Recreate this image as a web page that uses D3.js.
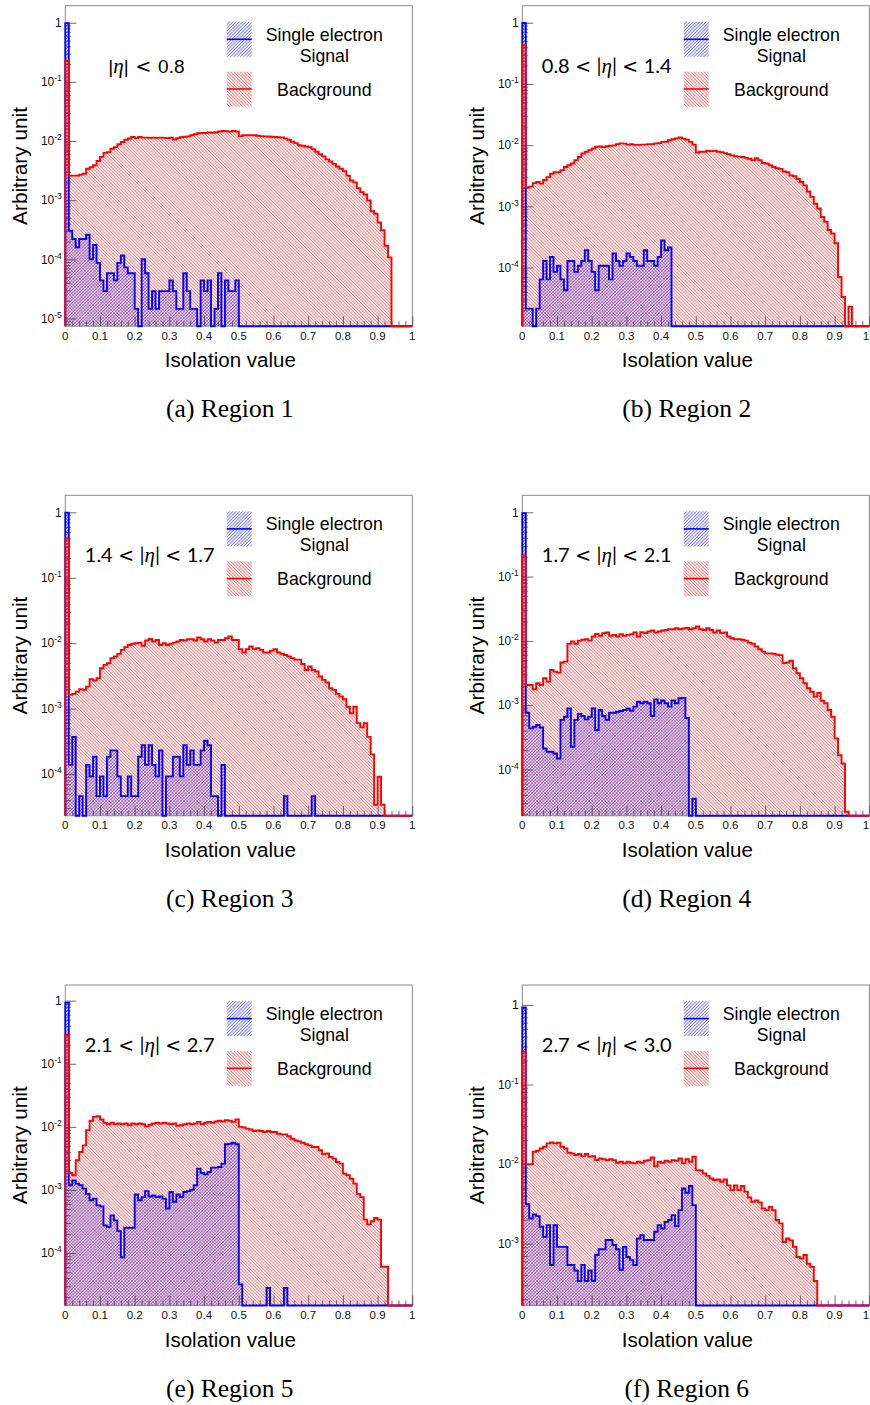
<!DOCTYPE html>
<html>
<head>
<meta charset="utf-8">
<script src="https://cdn.jsdelivr.net/npm/d3@7/dist/d3.min.js"></script>
<style>
  html, body { margin: 0; padding: 0; background: #fff; }
  svg { display: block; }
</style>
</head>
<body>
<svg id="fig" width="870" height="1405"></svg>
<script>
// Normalised isolation-value distributions, 100 bins on [0, 1], one pair per |eta| region.
// sigN: single electron signal, bkgN: background.

const sig1 = [
  0.985, 3.05e-4, 2.2e-4, 1.6e-4, 2.2e-4, 2.2e-4, 2.6e-4, 1.0e-4, 1.75e-4, 8.7e-5,
  4.4e-5, 2.9e-5, 5.8e-5, 5.8e-5, 4.4e-5, 8.7e-5, 1.16e-4, 7.3e-5, 5.8e-5, 5.8e-5,
  1.45e-5, 0, 1.0e-4, 5.8e-5, 1.45e-5, 2.9e-5, 1.45e-5, 2.9e-5, 2.9e-5, 2.9e-5,
  4.4e-5, 2.9e-5, 1.45e-5, 1.45e-5, 5.8e-5, 2.9e-5, 1.45e-5, 1.45e-5, 0, 4.4e-5,
  2.9e-5, 4.4e-5, 0, 1.45e-5, 5.8e-5, 0, 4.4e-5, 2.9e-5, 2.9e-5, 4.4e-5,
  0, 0, 0, 0, 0, 0, 0, 0, 0, 0,
  0, 0, 0, 0, 0, 0, 0, 0, 0, 0,
  0, 0, 0, 0, 0, 0, 0, 0, 0, 0,
  0, 0, 0, 0, 0, 0, 0, 0, 0, 0,
  0, 0, 0, 0, 0, 0, 0, 0, 0, 0
];
const bkg1 = [
  0.227, 2.6e-3, 2.6e-3, 2.6e-3, 2.7e-3, 2.8e-3, 3.4e-3, 3.6e-3, 3.9e-3, 4.6e-3,
  5.4e-3, 6.3e-3, 6.5e-3, 7.4e-3, 7.9e-3, 8.8e-3, 9.6e-3, 0.0105, 0.011, 0.0117,
  0.0112, 0.0117, 0.0114, 0.0114, 0.0113, 0.0114, 0.0113, 0.0114, 0.0113, 0.0112,
  0.0114, 0.0106, 0.0112, 0.0116, 0.0118, 0.012, 0.0125, 0.013, 0.0135, 0.0137,
  0.0137, 0.014, 0.0138, 0.0141, 0.0145, 0.0148, 0.0146, 0.0144, 0.0148, 0.0145,
  0.0121, 0.0125, 0.0125, 0.0126, 0.0125, 0.0123, 0.0121, 0.012, 0.0119, 0.0118,
  0.0117, 0.0116, 0.0115, 0.0111, 0.0105, 0.0097, 0.0092, 0.0085, 0.0083, 0.0081,
  0.0079, 0.0073, 0.0066, 0.006, 0.0055, 0.0049, 0.0045, 0.0041, 0.0037, 0.0034,
  0.0031, 0.0026, 0.00215, 0.002, 0.0016, 0.00137, 0.00125, 0.00099, 0.00065, 0.00059,
  0.00042, 0.00031, 0.00017, 0.000108, 0, 0, 0, 0, 0, 0
];

const sig2 = [
  0.99, 2.13e-5, 2.13e-5, 0, 2.13e-5, 6.4e-5, 1.28e-4, 6.4e-5, 1.49e-4, 8.5e-5,
  1.07e-4, 6.4e-5, 4.26e-5, 1.28e-4, 1.28e-4, 8.5e-5, 1.07e-4, 1.28e-4, 1.92e-4, 1.28e-4,
  8.5e-5, 4.26e-5, 1.07e-4, 1.07e-4, 1.07e-4, 6.4e-5, 1.7e-4, 1.28e-4, 1.07e-4, 1.28e-4,
  1.7e-4, 1.49e-4, 1.28e-4, 1.07e-4, 1.07e-4, 1.92e-4, 1.28e-4, 1.28e-4, 1.07e-4, 1.49e-4,
  2.77e-4, 1.92e-4, 2.13e-4, 0, 0, 0, 0, 0, 0, 0,
  0, 0, 0, 0, 0, 0, 0, 0, 0, 0,
  0, 0, 0, 0, 0, 0, 0, 0, 0, 0,
  0, 0, 0, 0, 0, 0, 0, 0, 0, 0,
  0, 0, 0, 0, 0, 0, 0, 0, 0, 0,
  0, 0, 0, 0, 0, 0, 0, 0, 0, 0
];
const bkg2 = [
  0.43, 2.03e-3, 2.1e-3, 2.4e-3, 2.5e-3, 2.35e-3, 2.7e-3, 3.0e-3, 3.4e-3, 3.6e-3,
  3.6e-3, 3.9e-3, 4.4e-3, 4.7e-3, 5.0e-3, 5.7e-3, 6.4e-3, 7.3e-3, 7.8e-3, 8.3e-3,
  8.8e-3, 9.4e-3, 9.5e-3, 9.3e-3, 9.6e-3, 9.8e-3, 9.9e-3, 0.0104, 0.0107, 0.0106,
  0.0102, 0.0104, 0.0101, 0.0101, 0.0102, 0.0102, 0.0104, 0.0104, 0.0107, 0.0108,
  0.0113, 0.0113, 0.012, 0.0125, 0.0129, 0.0133, 0.0128, 0.0123, 0.0113, 0.0102,
  0.0076, 0.0078, 0.0078, 0.0081, 0.008, 0.0081, 0.0078, 0.0077, 0.0074, 0.0071,
  0.0068, 0.0066, 0.0065, 0.0064, 0.0062, 0.006, 0.0057, 0.0061, 0.0057, 0.0051,
  0.005, 0.0047, 0.0044, 0.0042, 0.0041, 0.0037, 0.0036, 0.0032, 0.0031, 0.0028,
  0.0025, 0.0022, 0.00175, 0.00143, 0.0011, 0.00092, 0.00067, 0.00056, 0.00041, 0.00036,
  0.00025, 7e-5, 3.3e-5, 0, 2.3e-5, 0, 0, 0, 0, 0
];

const sig3 = [
  0.99, 1.38e-4, 3.68e-4, 0, 4.6e-5, 0, 1.38e-4, 9.2e-5, 1.84e-4, 4.6e-5,
  9.2e-5, 4.6e-5, 1.84e-4, 2.3e-4, 2.3e-4, 9.2e-5, 4.6e-5, 4.6e-5, 9.2e-5, 4.6e-5,
  4.6e-5, 1.84e-4, 2.76e-4, 1.38e-4, 2.76e-4, 1.38e-4, 9.2e-5, 2.3e-4, 0, 9.2e-5,
  9.2e-5, 1.84e-4, 1.84e-4, 9.2e-5, 2.76e-4, 1.38e-4, 2.3e-4, 1.38e-4, 1.38e-4, 2.3e-4,
  3.22e-4, 2.76e-4, 4.6e-5, 4.6e-5, 0, 1.38e-4, 0, 0, 0, 0,
  0, 0, 0, 0, 0, 0, 0, 0, 0, 0,
  0, 0, 0, 4.6e-5, 0, 0, 0, 0, 0, 0,
  0, 4.6e-5, 0, 0, 0, 0, 0, 0, 0, 0,
  0, 0, 0, 0, 0, 0, 0, 0, 0, 0,
  0, 0, 0, 0, 0, 0, 0, 0, 0, 0
];
const bkg3 = [
  0.40, 1.62e-3, 1.68e-3, 1.82e-3, 1.98e-3, 1.93e-3, 2.17e-3, 2.81e-3, 2.69e-3, 2.91e-3,
  4.14e-3, 4.66e-3, 4.94e-3, 5.9e-3, 6.25e-3, 6.87e-3, 7.9e-3, 8.7e-3, 9.4e-3, 9.8e-3,
  0.01, 0.0102, 9.1e-3, 0.011, 0.0116, 0.0106, 0.0112, 9.4e-3, 0.01, 9.4e-3,
  9.8e-3, 0.0102, 0.0106, 0.0112, 0.011, 0.0115, 0.0115, 0.011, 0.0122, 0.0115,
  0.0106, 0.0115, 0.011, 0.0102, 0.0112, 0.0112, 0.0119, 0.0127, 0.0112, 0.0112,
  8.1e-3, 7.2e-3, 8.1e-3, 8.9e-3, 8.1e-3, 8.4e-3, 7.9e-3, 7.2e-3, 7.2e-3, 7.7e-3,
  8.1e-3, 7.2e-3, 6.9e-3, 6.6e-3, 6.25e-3, 5.9e-3, 5.6e-3, 5.6e-3, 4.8e-3, 3.9e-3,
  4.4e-3, 3.9e-3, 3.7e-3, 3.1e-3, 2.75e-3, 2.5e-3, 2.05e-3, 1.93e-3, 1.68e-3, 1.53e-3,
  1.39e-3, 1.07e-3, 8.5e-4, 1.07e-3, 6.0e-4, 5.2e-4, 6.0e-4, 3.7e-4, 2.0e-4, 3.4e-5,
  9.1e-5, 3.4e-5, 0, 0, 0, 0, 0, 0, 0, 0
];

const sig4 = [
  0.97, 7.6e-4, 4.36e-4, 4.62e-4, 4.9e-4, 4.5e-4, 2.12e-4, 1.88e-4, 1.88e-4, 1.77e-4,
  1.48e-4, 5.9e-4, 6.6e-4, 8.9e-4, 2.26e-4, 5.9e-4, 7.3e-4, 6.8e-4, 6.0e-4, 6.6e-4,
  8.9e-4, 4.1e-4, 8.4e-4, 6.8e-4, 5.9e-4, 7.6e-4, 7.6e-4, 7.9e-4, 8.1e-4, 8.4e-4,
  8.9e-4, 8.2e-4, 9.5e-4, 1.13e-3, 1.07e-3, 1.13e-3, 1.07e-3, 6.8e-4, 1.23e-3, 1.07e-3,
  1.18e-3, 1.07e-3, 9.5e-4, 1.18e-3, 1.07e-3, 1.28e-3, 1.3e-3, 6.3e-4, 0, 3.5e-5,
  0, 0, 0, 0, 0, 0, 0, 0, 0, 0,
  0, 0, 0, 0, 0, 0, 0, 0, 0, 0,
  0, 0, 0, 0, 0, 0, 0, 0, 0, 0,
  0, 0, 0, 0, 0, 0, 0, 0, 0, 0,
  0, 0, 0, 0, 0, 0, 0, 0, 0, 0
];
const bkg4 = [
  0.214, 2.06e-3, 2.06e-3, 1.77e-3, 2.19e-3, 2.06e-3, 2.62e-3, 2.32e-3, 3.53e-3, 3.33e-3,
  3.21e-3, 4.6e-3, 4.76e-3, 8.98e-3, 9.77e-3, 8.98e-3, 0.0101, 0.0104, 0.0106, 0.0101,
  0.0117, 0.0128, 0.012, 0.0132, 0.0135, 0.012, 0.0124, 0.0117, 0.0127, 0.012,
  0.0124, 0.0127, 0.0135, 0.0117, 0.0137, 0.0132, 0.014, 0.0145, 0.0135, 0.014,
  0.0145, 0.0148, 0.0152, 0.0152, 0.0157, 0.0152, 0.0156, 0.0159, 0.0152, 0.0157,
  0.0167, 0.0152, 0.0148, 0.0157, 0.0148, 0.0135, 0.0145, 0.0132, 0.0135, 0.0117,
  0.011, 0.0106, 0.0106, 0.0104, 0.0101, 9.4e-3, 9.0e-3, 8.2e-3, 7.4e-3, 6.8e-3,
  6.4e-3, 6.4e-3, 6.3e-3, 6.1e-3, 6.0e-3, 4.5e-3, 4.6e-3, 4.9e-3, 3.75e-3, 3.13e-3,
  2.62e-3, 2.19e-3, 1.83e-3, 1.62e-3, 1.36e-3, 1.55e-3, 1.17e-3, 1.07e-3, 8.4e-4, 6.6e-4,
  3.04e-4, 1.67e-4, 1.24e-4, 2.2e-5, 0, 0, 0, 0, 0, 0
];

const sig5 = [
  0.93, 1.19e-3, 1.42e-3, 1.26e-3, 1.19e-3, 1.05e-3, 8.7e-4, 6.9e-4, 7.3e-4, 5.7e-4,
  5.5e-4, 2.75e-4, 2.59e-4, 3.96e-4, 3.3e-4, 2.23e-4, 8.6e-5, 2.52e-4, 2.52e-4, 2.52e-4,
  8.5e-4, 6.9e-4, 7.7e-4, 9.6e-4, 7.9e-4, 8.2e-4, 7.7e-4, 7.9e-4, 7.3e-4, 5.1e-4,
  9.3e-4, 6.5e-4, 8.5e-4, 7.7e-4, 9.3e-4, 9.6e-4, 1.01e-3, 1.19e-3, 2.18e-3, 1.86e-3,
  1.77e-3, 1.93e-3, 2.26e-3, 2.26e-3, 2.32e-3, 2.62e-3, 5.3e-3, 5.4e-3, 5.6e-3, 5.3e-3,
  3.2e-5, 0, 0, 0, 0, 0, 0, 0, 2.8e-5, 0,
  0, 0, 0, 2.8e-5, 0, 0, 0, 0, 0, 0,
  0, 0, 0, 0, 0, 0, 0, 0, 0, 0,
  0, 0, 0, 0, 0, 0, 0, 0, 0, 0,
  0, 0, 0, 0, 0, 0, 0, 0, 0, 0
];
const bkg5 = [
  0.285, 1.86e-3, 1.71e-3, 2.96e-3, 4.0e-3, 5.1e-3, 8.9e-3, 0.0125, 0.0144, 0.0148,
  0.0131, 0.0116, 0.011, 0.0116, 0.011, 0.0113, 0.011, 0.0113, 0.0106, 0.0113,
  0.011, 0.0113, 0.011, 0.0102, 0.0108, 0.0113, 0.0116, 0.0113, 0.0116, 0.0113,
  0.011, 0.0113, 0.0104, 0.0106, 0.011, 0.0113, 0.011, 0.0113, 0.012, 0.011,
  0.0116, 0.012, 0.0116, 0.0122, 0.0125, 0.0122, 0.0128, 0.0125, 0.012, 0.0131,
  0.01, 9.8e-3, 9.4e-3, 9.1e-3, 8.6e-3, 8.8e-3, 8.6e-3, 8.3e-3, 8.6e-3, 8.3e-3,
  8.3e-3, 7.8e-3, 7.6e-3, 7.6e-3, 7.1e-3, 6.5e-3, 6.1e-3, 5.9e-3, 5.6e-3, 5.3e-3,
  5.1e-3, 4.8e-3, 4.8e-3, 4.27e-3, 3.7e-3, 3.8e-3, 3.34e-3, 3.14e-3, 2.78e-3, 2.62e-3,
  1.82e-3, 1.71e-3, 1.51e-3, 1.26e-3, 8.7e-4, 7.7e-4, 3.4e-4, 2.85e-4, 3.2e-4, 3.6e-4,
  3.4e-4, 6.1e-5, 6.1e-5, 0, 0, 0, 0, 0, 0, 0
];

const sig6 = [
  0.93, 3.14e-3, 2.07e-3, 2.33e-3, 2.22e-3, 1.63e-3, 1.22e-3, 1.71e-3, 5.4e-4, 1.71e-3,
  9.1e-4, 9.1e-4, 9.1e-4, 5.4e-4, 5.4e-4, 4.6e-4, 3.4e-4, 5.4e-4, 3.4e-4, 4.6e-4,
  3.4e-4, 7.2e-4, 8.5e-4, 8.5e-4, 1.11e-3, 1.11e-3, 9.6e-4, 8.5e-4, 4.7e-4, 9.1e-4,
  6.8e-4, 6.2e-4, 5.4e-4, 1.16e-3, 1.28e-3, 1.11e-3, 1.11e-3, 1.11e-3, 1.41e-3, 1.71e-3,
  1.55e-3, 1.88e-3, 1.98e-3, 2.28e-3, 1.66e-3, 2.64e-3, 4.94e-3, 4.36e-3, 5.3e-3, 3.05e-3,
  0, 0, 0, 0, 0, 0, 0, 0, 0, 0,
  0, 0, 0, 0, 0, 0, 0, 0, 0, 0,
  0, 0, 0, 0, 0, 0, 0, 0, 0, 0,
  0, 0, 0, 0, 0, 0, 0, 0, 0, 0,
  0, 0, 0, 0, 0, 0, 0, 0, 0, 0
];
const bkg6 = [
  0.259, 0.01, 0.01, 0.0143, 0.0147, 0.0157, 0.0165, 0.0182, 0.0187, 0.0182,
  0.0186, 0.0165, 0.0157, 0.0139, 0.0136, 0.013, 0.0134, 0.0126, 0.0134, 0.0124,
  0.0126, 0.0112, 0.0118, 0.0115, 0.0112, 0.0115, 0.0112, 0.0104, 0.0107, 0.0102,
  0.0107, 0.0104, 0.0102, 0.0107, 0.0104, 0.011, 0.0112, 0.0121, 0.0094, 0.0107,
  0.0104, 0.011, 0.0107, 0.0112, 0.011, 0.0118, 0.0102, 0.0115, 0.0107, 0.0124,
  8.4e-3, 8.3e-3, 7.6e-3, 7.1e-3, 6.6e-3, 6.3e-3, 6.4e-3, 6.0e-3, 6.4e-3, 5.4e-3,
  4.7e-3, 5.4e-3, 4.7e-3, 5.3e-3, 4.5e-3, 3.8e-3, 3.36e-3, 3.5e-3, 3.3e-3, 2.77e-3,
  2.64e-3, 2.9e-3, 2.64e-3, 1.98e-3, 1.8e-3, 1.05e-3, 1.16e-3, 1.1e-3, 9.1e-4, 6.8e-4,
  6.5e-4, 7.2e-4, 5.6e-4, 5.1e-4, 3.4e-4, 0, 0, 0, 0, 0,
  0, 0, 0, 0, 0, 0, 0, 0, 0, 0
];

// Per-panel text and vertical axis ranges
const etaLabels = [
  "|η| < 0.8",
  "0.8 < |η| < 1.4",
  "1.4 < |η| < 1.7",
  "1.7 < |η| < 2.1",
  "2.1 < |η| < 2.7",
  "2.7 < |η| < 3.0"
];
const captions = ["(a) Region 1", "(b) Region 2", "(c) Region 3", "(d) Region 4", "(e) Region 5", "(f) Region 6"];
const yDomains = [[7.4e-6, 1.94], [1.1e-5, 1.9], [2.3e-5, 1.82], [1.9e-5, 1.84], [1.48e-5, 1.77], [1.67e-4, 1.78]];
const xTickValues = [0, 0.1, 0.2, 0.3, 0.4, 0.5, 0.6, 0.7, 0.8, 0.9, 1];
const legendLabels = [["Single electron", "Signal"], ["Background"]];

const signals = [sig1, sig2, sig3, sig4, sig5, sig6];
const backgrounds = [bkg1, bkg2, bkg3, bkg4, bkg5, bkg6];

// Layout
const pageW = 870, pageH = 1405;
const frameLefts = [65.3, 522.3];
const frameTops = [5.7, 495.3, 985];
const frameW = 347, frameH = 320.5;
const SANS = "'Liberation Sans', Arial, Helvetica, sans-serif";
const SERIF = "'Liberation Serif', 'Times New Roman', serif";
const RED = "#ff0000", BLUE = "#0000ff";

const svg = d3.select("#fig");
svg.append("rect").attr("width", pageW).attr("height", pageH).attr("fill", "#fff");

// Hatched fills: "/" for signal, "\" for background
const defs = svg.append("defs");
function hatch(id, color, angle) {
  const s = 2.3;
  const p = defs.append("pattern")
    .attr("id", id)
    .attr("patternUnits", "userSpaceOnUse")
    .attr("width", s).attr("height", s)
    .attr("patternTransform", `rotate(${angle})`);
  p.append("line")
    .attr("x1", s / 2).attr("x2", s / 2)
    .attr("y1", -1).attr("y2", s + 1)
    .attr("stroke", color).attr("stroke-width", 0.85).attr("stroke-opacity", 0.7);
}
hatch("hatchSig", "#2a2aff", 45);
hatch("hatchBkg", "#ff2a2a", -45);

function drawPanel(i) {
  const L = frameLefts[i % 2];
  const T = frameTops[Math.floor(i / 2)];
  const g = svg.append("g").attr("transform", `translate(${L},${T})`);

  const x = d3.scaleLinear().domain([0, 1]).range([0, frameW]);
  const yDom = yDomains[i];
  const y = d3.scaleLog().domain(yDom).range([frameH, 0]);
  const yv = v => (v > 0 ? y(Math.max(v, yDom[0])) : frameH);

  // Step outline points of a histogram
  function steps(vals) {
    const n = vals.length;
    const pts = [[x(0), frameH]];
    vals.forEach((v, b) => {
      pts.push([x(b / n), yv(v)], [x((b + 1) / n), yv(v)]);
    });
    pts.push([x(1), frameH]);
    return pts;
  }
  const area = d3.area().x(d => d[0]).y0(frameH).y1(d => d[1]);
  const line = d3.line().x(d => d[0]).y(d => d[1]);

  const sigPts = steps(signals[i]);
  const bkgPts = steps(backgrounds[i]);

  g.append("path").attr("d", area(bkgPts)).attr("fill", "url(#hatchBkg)");
  g.append("path").attr("d", area(sigPts)).attr("fill", "url(#hatchSig)");

  // Frame
  g.append("rect").attr("x", 0).attr("y", 0).attr("width", frameW).attr("height", frameH)
    .attr("fill", "none").attr("stroke", "#8c8c8c").attr("stroke-width", 1);

  // X ticks (pointing inward)
  const xMinor = d3.range(1, 50).map(k => k / 50).filter(v => Math.abs(v * 10 - Math.round(v * 10)) > 1e-6);
  const xAx = g.append("g").attr("transform", `translate(0,${frameH})`);
  xAx.call(d3.axisBottom(x).tickValues(xTickValues).tickSize(-10).tickFormat(""));
  xAx.append("g").call(d3.axisBottom(x).tickValues(xMinor).tickSize(-5).tickFormat(""));
  xAx.selectAll(".domain").remove();
  xAx.selectAll(".tick line").attr("stroke", "#444").attr("stroke-width", 0.8);

  // Y ticks (log, inward)
  const eMin = Math.ceil(Math.log10(yDom[0]));
  const eMax = Math.floor(Math.log10(yDom[1]));
  const decades = d3.range(eMin, eMax + 1);
  const yMinor = [];
  for (let e = Math.floor(Math.log10(yDom[0])); e <= eMax; e++) {
    for (let m = 2; m <= 9; m++) {
      const v = m * Math.pow(10, e);
      if (v >= yDom[0] && v <= yDom[1]) yMinor.push(v);
    }
  }
  const yAx = g.append("g");
  yAx.call(d3.axisLeft(y).tickValues(decades.map(e => Math.pow(10, e))).tickSize(-11).tickFormat(""));
  yAx.append("g").call(d3.axisLeft(y).tickValues(yMinor).tickSize(-5.5).tickFormat(""));
  yAx.selectAll(".domain").remove();
  yAx.selectAll(".tick line").attr("stroke", "#444").attr("stroke-width", 0.8);

  // Histogram outlines (background drawn last, on top)
  g.append("path").attr("d", line(sigPts)).attr("fill", "none")
    .attr("stroke", BLUE).attr("stroke-width", 1.9).attr("stroke-linejoin", "miter");
  g.append("path").attr("d", line(bkgPts)).attr("fill", "none")
    .attr("stroke", RED).attr("stroke-width", 1.9).attr("stroke-linejoin", "miter");

  // X tick labels; keep the last one inside the page
  g.append("g").selectAll("text").data(xTickValues).join("text")
    .attr("x", d => Math.min(x(d), pageW - L - 4))
    .attr("y", frameH + 13.5)
    .attr("text-anchor", "middle")
    .attr("font-family", SANS).attr("font-size", 11.5).attr("fill", "#111")
    .text(d => d3.format("~g")(d));

  // Y tick labels: 1, 10^-k
  const yl = g.append("g").selectAll("text").data(decades).join("text")
    .attr("x", -3.5).attr("y", e => y(Math.pow(10, e)) + 4.3)
    .attr("text-anchor", "end")
    .attr("font-family", SANS).attr("font-size", 12).attr("fill", "#111");
  yl.each(function (e) {
    const t = d3.select(this);
    if (e === 0) { t.text("1"); return; }
    t.append("tspan").text("10");
    t.append("tspan").attr("dy", -5).attr("font-size", 8.5).text(String(e));
  });

  // Axis titles
  g.append("text")
    .attr("x", 165).attr("y", frameH + 41)
    .attr("text-anchor", "middle")
    .attr("font-family", SANS).attr("font-size", 20.5).attr("fill", "#000")
    .text("Isolation value");
  g.append("text")
    .attr("transform", `translate(-38,${frameH / 2}) rotate(-90)`)
    .attr("text-anchor", "middle")
    .attr("font-family", SANS).attr("font-size", 20.8).attr("fill", "#000")
    .text("Arbitrary unit");

  // |eta| range label: math-style "<" and italic eta
  const eta = g.append("text").attr("y", 67).attr("fill", "#000").style("white-space", "pre");
  if (i === 0) {
    eta.attr("x", 43).attr("font-family", SANS).attr("font-size", 19).attr("word-spacing", 1.5);
  } else {
    eta.attr("x", 19.5).attr("font-family", "Lato, 'Open Sans', sans-serif").attr("font-size", 20)
      .attr("word-spacing", 0.3);
  }
  etaLabels[i].split(/(η|<)/).filter(s => s.length).forEach(tok => {
    const ts = eta.append("tspan").text(tok);
    if (tok === "η") ts.attr("font-family", SERIF).attr("font-style", "italic").attr("font-size", 21);
    if (tok === "<") ts.attr("font-family", "'DejaVu Sans', sans-serif").attr("font-size", 19);
  });

  // Legend
  const lg = g.append("g");
  const boxX = 161.4, boxW = 25, boxH = 35;
  lg.append("rect").attr("x", boxX).attr("y", 16).attr("width", boxW).attr("height", boxH).attr("fill", "url(#hatchSig)");
  lg.append("line").attr("x1", boxX).attr("x2", boxX + boxW).attr("y1", 33.6).attr("y2", 33.6)
    .attr("stroke", BLUE).attr("stroke-width", 1.6);
  lg.append("rect").attr("x", boxX).attr("y", 66).attr("width", boxW).attr("height", boxH).attr("fill", "url(#hatchBkg)");
  lg.append("line").attr("x1", boxX).attr("x2", boxX + boxW).attr("y1", 83.3).attr("y2", 83.3)
    .attr("stroke", RED).attr("stroke-width", 1.6);
  const legText = [[legendLabels[0][0], 35], [legendLabels[0][1], 56], [legendLabels[1][0], 90]];
  lg.selectAll("text.leg").data(legText).join("text")
    .attr("class", "leg")
    .attr("x", 259).attr("y", d => d[1])
    .attr("text-anchor", "middle")
    .attr("font-family", SANS).attr("font-size", 17.7).attr("fill", "#000")
    .text(d => d[0]);

  // Sub-figure caption
  g.append("text")
    .attr("x", 164.5).attr("y", frameH + 91)
    .attr("text-anchor", "middle")
    .attr("font-family", SERIF).attr("font-size", 25.5).attr("fill", "#000")
    .text(captions[i]);
}

for (let i = 0; i < 6; i++) drawPanel(i);
</script>
</body>
</html>
